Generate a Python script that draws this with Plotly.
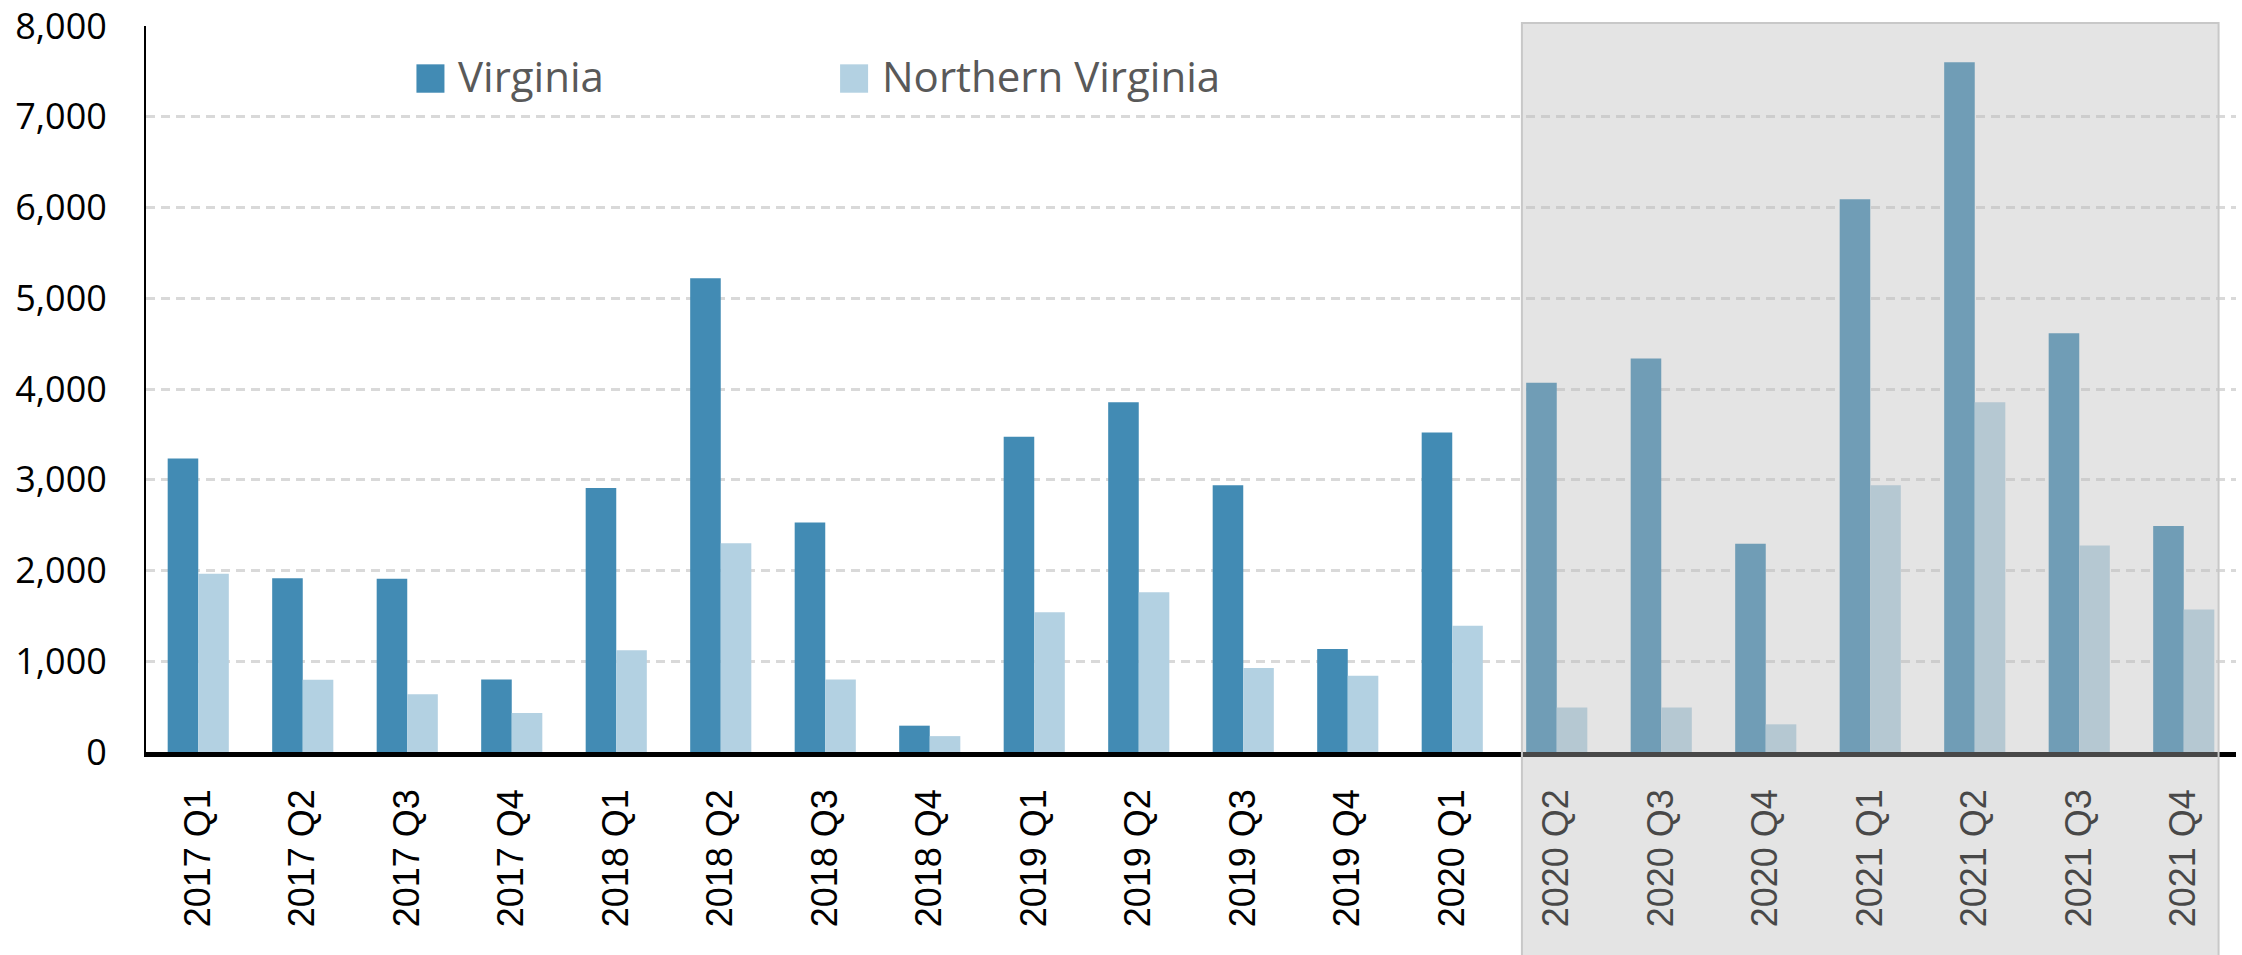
import plotly.graph_objects as go

quarters = ["2017 Q1", "2017 Q2", "2017 Q3", "2017 Q4",
            "2018 Q1", "2018 Q2", "2018 Q3", "2018 Q4",
            "2019 Q1", "2019 Q2", "2019 Q3", "2019 Q4",
            "2020 Q1", "2020 Q2", "2020 Q3", "2020 Q4",
            "2021 Q1", "2021 Q2", "2021 Q3", "2021 Q4"]
virginia = [3235, 1915, 1910, 800,
            2910, 5220, 2530, 290,
            3475, 3855, 2940, 1135,
            3520, 4070, 4335, 2295,
            6090, 7600, 4615, 2490]
northern_virginia = [1965, 795, 635, 430,
                     1120, 2300, 800, 175,
                     1540, 1760, 925, 840,
                     1390, 490, 490, 305,
                     2940, 3855, 2275, 1570]
series_names = ["Virginia", "Northern Virginia"]
series_colors = ["#428bb4", "#b3d1e2"]
shaded_from = "2020 Q2"
shaded_to = "2021 Q4"

fig = go.Figure()
for name, vals, col in zip(series_names, [virginia, northern_virginia], series_colors):
    fig.add_trace(go.Bar(x=quarters, y=vals, name=name, marker=dict(color=col, line=dict(width=0)),
                         showlegend=False))

n = len(quarters)
i0 = quarters.index(shaded_from)
i1 = quarters.index(shaded_to)
px0 = (i0 - 1/3 + 0.5) / n
px1 = (i1 + 1/3 + 0.5) / n

shapes = [dict(type="rect", xref="paper", yref="paper", x0=px0, x1=px1, y0=-0.32, y1=1.004,
               fillcolor="rgba(185,185,185,0.39)", line=dict(color="rgb(200,200,200)", width=2),
               layer="above")]

# manual legend (large swatches)
leg_x = [0.1294, 0.3321]
sw = 0.0134
annotations = []
for name, col, lx in zip(series_names, series_colors, leg_x):
    shapes.append(dict(type="rect", xref="paper", yref="paper", x0=lx, x1=lx + sw,
                       y0=0.9081, y1=0.9472, fillcolor=col, line=dict(width=0), layer="above"))
    annotations.append(dict(text=name, xref="paper", yref="paper", x=lx + sw + 0.0055, y=0.9325,
                            xanchor="left", yanchor="middle", showarrow=False,
                            font=dict(family="Open Sans", size=42, color="#595959")))

fig.update_layout(
    width=2242, height=955,
    margin=dict(l=146, r=6, t=26, b=203, autoexpand=False),
    paper_bgcolor="white", plot_bgcolor="white",
    barmode="group", bargap=0.415, bargroupgap=0,
    shapes=shapes, annotations=annotations,
    showlegend=False,
    xaxis=dict(type="category", tickangle=-90, showgrid=False, showline=True, automargin=False,
               linecolor="black", linewidth=4.5, ticks="", ticklabelstandoff=18,
               tickfont=dict(family="Liberation Sans", size=36, color="black"),
               range=[-0.5, n - 0.5]),
    yaxis=dict(range=[0, 8000], dtick=1000, tickformat=",d", showgrid=True, automargin=False,
               gridcolor="#d9d9d9", gridwidth=2.7, griddash="8.5px,6.5px",
               showline=True, linecolor="black", linewidth=2, zeroline=False,
               ticks="", ticklabelstandoff=30,
               tickfont=dict(family="Open Sans", size=36, color="black")),
)

fig.write_html("out.html", config={"displayModeBar": False},
               post_script="document.body.style.margin='0';document.body.style.overflow='hidden';")
